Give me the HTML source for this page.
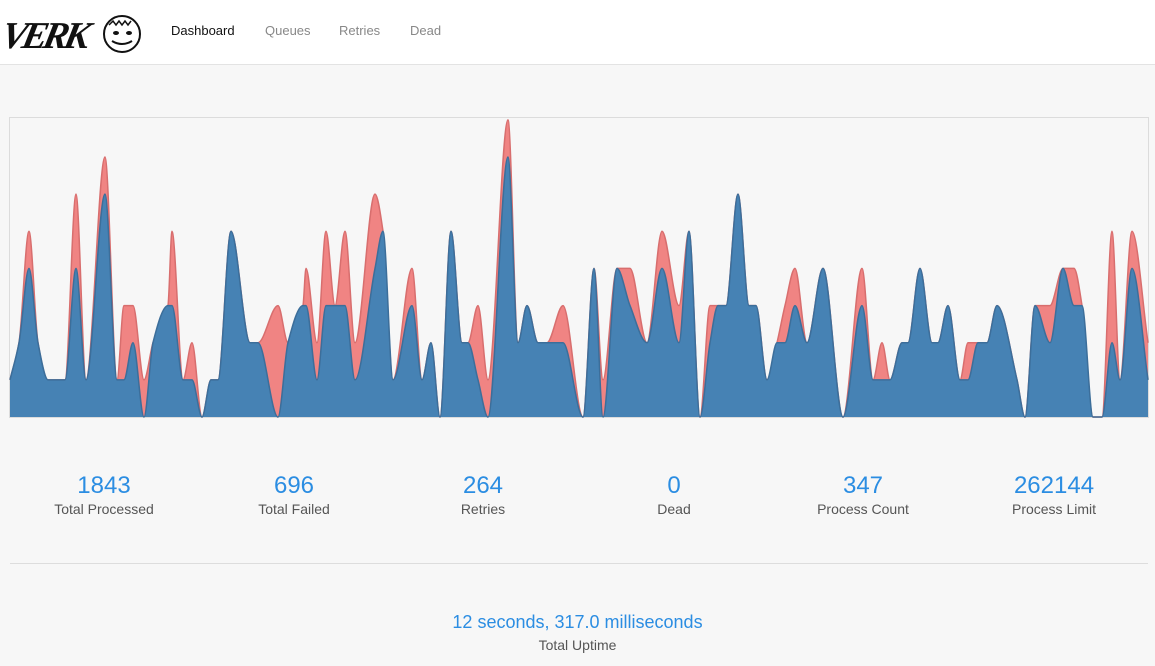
<!DOCTYPE html>
<html><head><meta charset="utf-8"><title>Verk Dashboard</title>
<style>
html,body{margin:0;padding:0;width:1155px;height:666px;overflow:hidden;background:#f7f7f7;font-family:"Liberation Sans",sans-serif;}
#header{position:absolute;left:0;top:0;width:1155px;height:64px;background:#fff;border-bottom:1px solid #e3e3e3;}
.nav{position:absolute;top:23px;font-size:13px;color:#888;text-decoration:none;}
.stat{position:absolute;top:472px;width:200px;text-align:center;}
.stat .num{font-size:24px;color:#2b8de2;line-height:28px;}
.stat .lbl{font-size:14px;color:#555;line-height:18px;margin-top:0px;}
#divider{position:absolute;left:10px;top:563px;width:1138px;height:1px;background:#ddd;}
#uptime{position:absolute;left:0;width:1155px;top:611px;text-align:center;}
</style></head>
<body>
<div id="header">
  <svg style="position:absolute;left:6px;top:8px" width="136" height="50">
    <text x="2" y="40" font-family="Liberation Serif, serif" font-style="italic" font-weight="bold" font-size="38" fill="#111" transform="skewX(-12)" textLength="88">VERK</text>
    <circle cx="116" cy="26" r="18" fill="none" stroke="#111" stroke-width="2"/>
    <path d="M103 17 l4 -4 l3 4 l3 -4 l3 4 l3 -4 l3 4 l3 -4" fill="none" stroke="#111" stroke-width="1.5"/>
    <ellipse cx="110" cy="25" rx="3" ry="2" fill="#111"/><ellipse cx="123" cy="25" rx="3" ry="2" fill="#111"/>
    <path d="M106 33 q10 6 20 0" fill="none" stroke="#111" stroke-width="2"/>
  </svg>
  <a class="nav" style="left:171px;color:#111">Dashboard</a>
  <a class="nav" style="left:265px">Queues</a>
  <a class="nav" style="left:339px">Retries</a>
  <a class="nav" style="left:410px">Dead</a>
</div>

<svg id="chart" style="position:absolute;left:0;top:0" width="1155" height="440">
  <rect x="9.5" y="117.5" width="1139" height="300" fill="none" stroke="#dcdcdc"/>
  <g id="areas"></g>
</svg>

<div class="stat" style="left:4px"><div class="num">1843</div><div class="lbl">Total Processed</div></div>
<div class="stat" style="left:194px"><div class="num">696</div><div class="lbl">Total Failed</div></div>
<div class="stat" style="left:383px"><div class="num">264</div><div class="lbl">Retries</div></div>
<div class="stat" style="left:574px"><div class="num">0</div><div class="lbl">Dead</div></div>
<div class="stat" style="left:763px"><div class="num">347</div><div class="lbl">Process Count</div></div>
<div class="stat" style="left:954px"><div class="num">262144</div><div class="lbl">Process Limit</div></div>
<div id="divider"></div>
<div id="uptime">
  <div style="font-size:18px;color:#2b8de2;line-height:22px">12 seconds, 317.0 milliseconds</div>
  <div style="font-size:14px;color:#555;line-height:24px">Total Uptime</div>
</div>

<script>
const times = [10,19,29,38,48,57,65,76,86,105,117,124,133,144,153,168,172,183,192,202,211,218,231,250,258,278,288,303,306,317,326,335,345,355,375,383,393,412,422,431,440,451,462,468,478,488,508,518,527,538,547,563,583,594,603,617,630,647,662,679,689,700,710,718,726,738,749,756,767,777,785,795,807,823,843,862,873,882,890,902,908,920,932,938,948,960,968,978,987,997,1017,1025,1035,1050,1063,1074,1082,1093,1102,1112,1120,1132,1148];
const processed = [1,2,4,2,1,1,1,4,1,6,1,1,2,0,2,3,3,1,1,0,1,1,5,2,2,0,2,3,3,1,3,3,3,1,4,5,1,3,1,2,0,5,2,2,1,0,7,2,3,2,2,2,0,4,0,4,3,2,4,2,5,0,2,3,3,6,3,3,1,2,2,3,2,4,0,3,1,1,1,2,2,4,2,2,3,1,1,2,2,3,1,0,3,2,4,3,3,0,0,2,1,4,1];
const failed = [1,2,5,2,1,1,1,6,1,7,1,3,3,1,2,3,5,1,2,0,1,1,5,2,2,3,2,3,4,2,5,3,5,2,6,5,1,4,1,2,0,5,2,2,3,1,8,2,3,2,2,3,0,4,1,4,4,2,5,3,5,0,3,3,3,6,3,3,1,2,3,4,2,4,0,4,1,2,1,2,2,4,2,2,3,1,2,2,2,3,1,0,3,3,4,4,3,0,0,5,1,5,2];
const yMax = 8.05;

function xs(t){ return 10 + (t-10) * (1138/1138); }
function ys(v){ return 417 - v * (299/yMax); }

function monotonePath(px, py){
  const n = px.length, m = new Array(n), d = [];
  for (let i=0;i<n-1;i++) d.push((py[i+1]-py[i])/(px[i+1]-px[i]));
  m[0]=d[0]; m[n-1]=d[n-2];
  for (let i=1;i<n-1;i++){
    if (d[i-1]*d[i] <= 0) m[i]=0;
    else { const h0=px[i]-px[i-1], h1=px[i+1]-px[i];
      const w1=2*h1+h0, w2=h1+2*h0; m[i]=(w1+w2)/(w1/d[i-1]+w2/d[i]); }
  }
  let s = "M"+px[0]+","+py[0];
  for (let i=0;i<n-1;i++){
    const h=(px[i+1]-px[i])/3;
    s += " C"+(px[i]+h)+","+(py[i]+m[i]*h)+" "+(px[i+1]-h)+","+(py[i+1]-m[i+1]*h)+" "+px[i+1]+","+py[i+1];
  }
  return s;
}

function drawArea(vals, fill, stroke, name){
  const px = times.map(xs), py = vals.map(ys);
  const line = monotonePath(px, py);
  const g = document.getElementById('areas');
  const a = document.createElementNS('http://www.w3.org/2000/svg','path');
  a.setAttribute('d', line + " L"+px[px.length-1]+",417 L"+px[0]+",417 Z");
  a.setAttribute('fill', fill);
  
  
  g.appendChild(a);
  const l = document.createElementNS('http://www.w3.org/2000/svg','path');
  l.setAttribute('d', line);
  l.setAttribute('fill', 'none');
  l.setAttribute('stroke', stroke);
  l.setAttribute('stroke-width', '1.5');
  
  
  g.appendChild(l);
}
drawArea(failed, '#f08483', '#d86e6e', 'failed-series');
drawArea(processed, '#4682b4', '#3c6e9a', 'processed-series');
</script>
</body></html>
